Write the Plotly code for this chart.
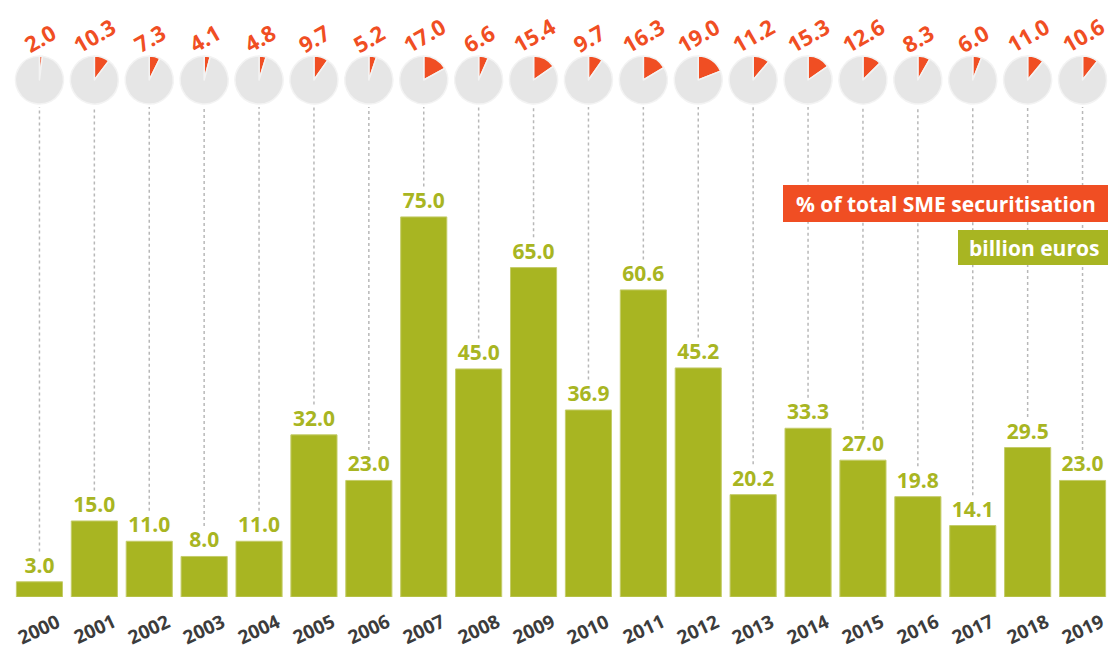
import plotly.graph_objects as go

years = list(range(2000, 2020))
billions = [3.0, 15.0, 11.0, 8.0, 11.0, 32.0, 23.0, 75.0, 45.0, 65.0,
            36.9, 60.6, 45.2, 20.2, 33.3, 27.0, 19.8, 14.1, 29.5, 23.0]
share_pct = [2.0, 10.3, 7.3, 4.1, 4.8, 9.7, 5.2, 17.0, 6.6, 15.4,
             9.7, 16.3, 19.0, 11.2, 15.3, 12.6, 8.3, 6.0, 11.0, 10.6]

GREEN = "#a8b522"
ORANGE = "#f04e23"
FONT = "Open Sans"

W, Hfig = 1110, 652
ML, MR, MT, MB = 12, 0, 0, 55
PW = W - ML - MR
PH = Hfig - MT - MB
YMAX = 117.8

fig = go.Figure()
fig.add_trace(go.Bar(
    x=years, y=billions, width=0.84,
    marker=dict(color=GREEN, line=dict(color="#c4cc6a", width=1)),
    text=[f"{v:.1f}" for v in billions], textposition="outside",
    textfont=dict(family=FONT, size=21, color=GREEN, weight="bold"),
    cliponaxis=False, hoverinfo="skip", showlegend=False,
))

def px_to_paper_y(py):
    return (PH - (py - MT)) / PH

pie_cy, pie_r = 80, 24
n = len(years)
shapes = []
annotations = []
for i, (yr, p, v) in enumerate(zip(years, share_pct, billions)):
    cx = (i + 0.5) / n
    half = pie_r / PW
    fig.add_trace(go.Pie(
        values=[p, 100 - p], sort=False, direction="clockwise", rotation=0,
        marker=dict(colors=[ORANGE, "#e6e6e6"], line=dict(color="#f3f3f3", width=1.5)),
        textinfo="none", hoverinfo="skip", showlegend=False,
        domain=dict(x=[cx - half, cx + half],
                    y=[px_to_paper_y(pie_cy + pie_r), px_to_paper_y(pie_cy - pie_r)]),
    ))
    # dotted connector
    y_top = (PH - (pie_cy + pie_r + 3)) / PH * YMAX
    shapes.append(dict(type="line", xref="x", yref="y", x0=yr, x1=yr,
                       y0=v + 6.0, y1=y_top, layer="below",
                       line=dict(color="#b8b8b8", width=1.5, dash="dot")))
    annotations.append(dict(x=yr, xref="x", xanchor="center",
                            y=px_to_paper_y(38 if len(f"{p:.1f}") == 3 else 35),
                            yref="paper", yanchor="middle",
                            text=f"{p:.1f}", showarrow=False, textangle=-30,
                            font=dict(family=FONT, size=22, color=ORANGE, weight="bold")))
    annotations.append(dict(x=yr, xref="x", xanchor="center",
                            y=px_to_paper_y(629), yref="paper", yanchor="middle",
                            text=str(yr), showarrow=False, textangle=-25,
                            font=dict(family=FONT, size=19, color="#3c3c3c", weight="bold")))

# legend boxes
def box(x0, x1, y0, y1, color):
    return dict(type="rect", xref="paper", yref="paper",
                x0=(x0 - ML) / PW, x1=(x1 - ML) / PW,
                y0=px_to_paper_y(y1), y1=px_to_paper_y(y0),
                fillcolor=color, line=dict(width=0), layer="above")

shapes.append(box(783, 1108, 185, 222, ORANGE))
shapes.append(box(958, 1108, 230, 265, GREEN))
annotations.append(dict(x=(946 - ML) / PW, xref="paper", xanchor="center",
                        y=px_to_paper_y(204), yref="paper", yanchor="middle",
                        text="% of total SME securitisation", showarrow=False,
                        font=dict(family=FONT, size=21, color="white", weight="bold")))
annotations.append(dict(x=(1034 - ML) / PW, xref="paper", xanchor="center",
                        y=px_to_paper_y(248), yref="paper", yanchor="middle",
                        text="billion euros", showarrow=False,
                        font=dict(family=FONT, size=21, color="white", weight="bold")))

fig.update_layout(
    width=W, height=Hfig,
    margin=dict(l=ML, r=MR, t=MT, b=MB),
    paper_bgcolor="white", plot_bgcolor="white",
    xaxis=dict(range=[1999.5, 2019.5], showticklabels=False, showgrid=False,
               zeroline=False, showline=False, ticks=""),
    yaxis=dict(range=[0, YMAX], visible=False, showgrid=False),
    shapes=shapes, annotations=annotations,
    bargap=0.16,
)

fig.write_html("out.html", config={"displayModeBar": False},
               post_script="document.body.style.margin='0';document.body.style.overflow='hidden';")
